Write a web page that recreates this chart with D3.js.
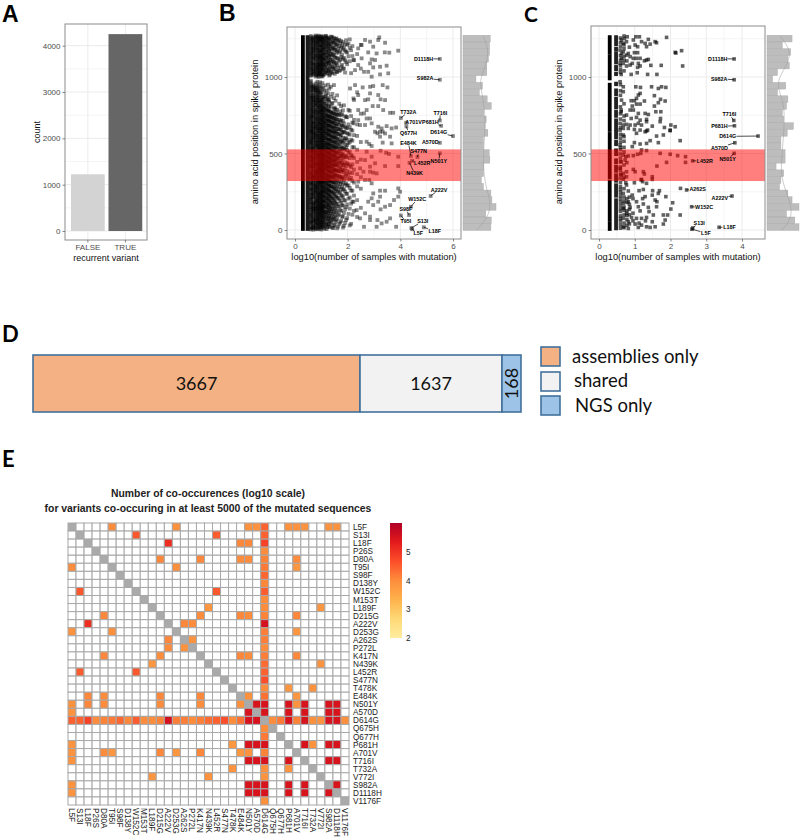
<!DOCTYPE html>
<html><head><meta charset="utf-8">
<script src="https://cdn.jsdelivr.net/npm/d3@7"></script>
<style>
html,body{margin:0;padding:0;background:#fff}
svg{display:block}
text{font-family:"Liberation Sans",Arial,sans-serif}
</style></head><body><div id="chart"></div>
<script>
// ---------- Panel A ----------
const recurrentCats = ["FALSE","TRUE"];
const recurrentCounts = [1225,4250];

// ---------- Panel B ----------
const bLevels = [.6,.7,.78,.85,.9,.95,1,1.04,1.08,1.15,1.2,1.26,1.3,1.36,1.42,1.48,1.54,1.6,1.68,1.75,1.82,1.9,1.98,2.08,2.18];
const bLevelPositions = [
[4,22,37,55,71,83,102,118,131,150,164,183,197,212,231,246,259,274,291,310,334,349,366,381,397,412,428,441,459,473,488,502,519,534,551,566,583,597,612,628,641,659,675,688,704,719,733,751,768,783,797,815,829,846,862,881,903,921,937,955,976,1008,1023,1041,1056,1072,1089,1104,1121,1138,1152,1169,1186,1203,1219,1236,1251,1268],
[12,29,48,63,92,109,125,141,158,176,204,221,239,268,283,301,322,341,358,374,405,421,449,466,481,511,527,543,574,590,605,634,651,668,697,712,741,759,776,806,838,855,873,896,912,930,947,1015,1033,1049,1081,1097,1113,1130,1161,1178,1195,1227,1244,1260],
[7,33,59,77,96,128,146,171,189,226,253,279,298,327,362,388,417,435,462,495,515,556,579,603,622,645,680,706,727,755,790,820,841,868,907,926,958,1003,1028,1061,1077,1108,1143,1174,1210,1231,1256,1271],
[17,44,68,88,112,137,160,193,217,241,264,287,316,345,371,393,424,452,478,507,538,560,591,618,655,684,712,745,772,803,833,858,886,915,942,969,1019,1045,1068,1095,1126,1158,1181,1214,1240,1265],
[26,52,80,105,133,155,180,208,235,272,305,331,356,384,409,437,468,493,524,548,577,609,636,664,695,724,763,794,824,851,877,910,951,1011,1037,1064,1085,1117,1147,1191,1223,1247,1270],
[9,41,74,99,122,148,174,201,228,256,295,319,352,378,402,431,456,483,512,541,569,599,631,661,691,716,748,780,811,843,892,933,965,1026,1052,1079,1110,1135,1165,1199,1233,1258],
[19,50,86,115,143,168,194,223,250,282,313,339,368,395,426,447,476,505,530,562,594,625,657,686,721,758,786,818,849,900,939,1006,1043,1075,1100,1132,1172,1206,1242,1262],
[31,65,94,127,153,186,215,244,276,307,336,364,391,419,444,471,499,532,558,587,616,648,678,708,736,770,801,835,866,919,960,1017,1059,1092,1124,1156,1189,1225,1255],
[14,46,79,110,139,166,199,233,262,294,325,359,386,414,439,464,491,521,553,582,611,643,673,701,729,761,792,826,859,928,1012,1047,1083,1119,1149,1182,1216,1249],
[25,61,98,120,157,191,225,258,288,318,347,376,407,433,458,486,516,546,572,605,638,669,699,731,766,799,840,875,945,1030,1066,1102,1140,1176,1208,1238,1266],
[6,39,84,116,147,178,210,242,270,303,332,361,398,423,451,481,510,540,567,601,633,666,696,725,754,788,822,856,912,1021,1055,1094,1127,1163,1197,1229,1259],
[35,70,108,142,172,205,237,265,299,329,355,389,416,445,474,504,536,563,592,626,652,682,714,743,777,813,852,893,950,1039,1086,1115,1154,1192,1222,1253],
[20,58,91,129,163,198,229,261,289,323,350,379,411,440,469,497,527,557,589,620,649,679,710,739,774,809,847,924,1010,1050,1091,1133,1170,1205,1245],
[43,81,119,152,188,219,251,285,315,344,373,403,434,462,492,523,552,585,613,646,677,707,738,768,804,871,936,1035,1070,1111,1145,1184,1218,1264],
[15,66,103,136,175,207,243,277,311,342,370,400,430,460,489,520,549,580,610,644,672,703,735,765,830,890,1025,1063,1106,1151,1196,1232,1261],
[28,76,114,159,195,234,268,301,338,367,396,427,455,485,515,544,575,607,639,667,700,728,760,793,862,947,1058,1098,1142,1187,1226,1254],
[53,97,144,182,218,255,293,328,363,393,422,450,479,509,539,570,602,635,662,694,726,757,790,845,1048,1088,1129,1178,1213,1248],
[11,73,124,170,211,249,284,324,357,387,418,448,477,506,535,565,596,630,660,690,722,752,785,880,1032,1076,1123,1167,1212,1241],
[40,101,151,200,240,280,321,354,383,410,443,472,501,531,561,593,627,656,689,720,756,825,1040,1101,1159,1201,1243],
[60,126,177,227,271,312,348,380,413,453,484,514,547,578,619,654,683,717,749,810,1069,1131,1193,1235],
[16,90,161,214,263,306,343,392,425,465,498,533,571,604,640,676,713,782,1053,1118,1180,1228],
[47,135,192,252,297,353,401,442,487,525,559,598,637,674,744,1029,1109,1173,1215],
[78,167,238,290,337,385,436,475,522,555,590,632,665,737,1084,1160,1211],
[30,140,213,275,330,377,420,470,513,576,623,671,779,1103,1190,1246],
[100,185,257,320,372,429,482,542,584,650,702,1137,1202]
];
const bLevels2 = [.6,.7,.78,.85,.9,.95,1,1.04,1.08,1.11,1.18,1.23,1.28,1.33,1.39,1.45,1.51,1.57,1.64,1.72,1.79,1.86,1.94,2.03,2.13,2.24,2.36,2.5];
const bLevelPositions2 = [
[9,15,44,49,66,90,97,113,139,145,172,178,201,207,226,238,265,270,296,303,315,328,341,355,372,376,402,418,423,447,454,478,481,507,513,528,541,559,572,576,590,604,620,636,647,652,668,681,696,711,727,739,745,760,775,791,806,822,837,853,868,875,895,911,929,944,966,1012,1030,1048,1063,1080,1095,1112,1129,1146,1161,1178,1194,1211,1228,1244,1259],
[2,18,25,57,73,85,117,136,149,167,182,214,233,247,262,290,312,330,347,352,385,396,414,430,440,458,474,492,503,520,535,550,567,598,615,626,640,660,677,690,705,731,747,769,785,798,816,830,849,864,882,921,938,1021,1038,1057,1071,1088,1122,1139,1155,1170,1187,1204,1218,1235,1252],
[13,39,51,71,103,119,138,155,179,198,212,243,260,272,289,309,336,351,369,380,399,428,444,471,486,506,526,548,569,587,612,631,662,671,693,720,736,766,781,812,829,851,878,899,918,935,1014,1039,1054,1086,1118,1134,1152,1186,1200,1220,1240,1263],
[5,30,58,79,101,124,147,170,186,205,230,254,277,300,322,338,360,383,408,433,463,489,519,545,570,599,628,647,672,698,731,757,785,815,846,871,901,930,1008,1030,1056,1081,1107,1136,1169,1195,1226,1252],
[10,36,64,92,116,142,164,192,220,245,284,312,343,373,396,420,447,480,502,535,563,588,615,650,678,707,739,773,807,838,864,896,923,1000,1022,1047,1073,1098,1129,1155,1178,1208,1236,1261],
[21,47,69,107,131,158,183,211,239,268,302,328,360,390,413,440,467,496,522,551,584,612,644,669,702,732,768,797,831,868,908,1018,1034,1063,1089,1122,1143,1175,1212,1249],
[3,33,60,92,126,149,176,205,232,259,290,322,353,382,408,436,461,491,518,546,576,606,634,665,694,727,752,784,815,842,882,1024,1051,1083,1113,1142,1166,1198,1234,1267],
[24,54,83,112,138,163,189,218,247,279,309,341,373,399,428,456,482,511,541,573,602,630,660,688,719,750,779,808,854,1003,1041,1071,1105,1137,1177,1209,1241],
[37,72,104,134,160,185,222,255,283,316,346,378,406,432,467,493,528,555,586,617,645,675,706,741,772,803,869,1018,1060,1090,1120,1158,1194,1230,1263],
[8,52,88,121,156,190,216,248,274,308,335,365,395,424,452,483,512,538,568,600,629,658,692,718,746,787,828,905,1036,1078,1114,1148,1185,1219,1250],
[33,74,113,149,181,212,246,278,310,340,369,404,435,463,495,526,556,588,618,647,681,711,748,778,812,885,1044,1082,1125,1162,1203,1239,1269],
[18,56,95,132,167,203,235,266,296,326,358,390,421,449,478,508,537,566,595,628,659,688,722,751,789,864,1027,1067,1104,1144,1183,1221,1257],
[42,82,123,158,193,226,259,292,322,352,384,415,444,473,503,533,562,591,622,653,685,716,747,783,838,1042,1093,1136,1175,1214,1247],
[23,67,110,146,184,222,254,286,317,349,381,412,441,468,499,528,560,590,621,651,684,712,742,775,1016,1062,1110,1153,1198,1236],
[50,93,138,176,213,250,287,319,351,388,419,452,484,518,548,579,611,642,674,705,733,761,826,1031,1085,1128,1171,1219,1258],
[13,72,122,165,206,244,280,313,347,382,417,446,476,507,538,569,603,634,665,698,730,770,1052,1099,1147,1191,1237],
[34,88,140,188,232,273,314,356,392,426,458,489,521,551,586,615,645,680,711,746,800,1021,1073,1125,1178,1224],
[62,117,169,221,269,310,352,390,431,466,500,541,574,608,642,681,723,768,1035,1094,1158,1206,1252],
[22,96,155,209,258,304,345,384,428,468,510,549,588,628,663,703,752,1061,1120,1183,1233],
[49,128,190,249,300,346,397,439,483,528,573,616,659,709,775,1044,1112,1168,1221],
[85,160,224,283,335,388,437,491,538,585,636,684,756,1079,1145,1205],
[27,112,195,267,326,378,426,475,532,582,643,697,815,1056,1125,1192],
[66,150,236,305,365,420,480,540,600,668,738,1097,1165,1240],
[105,205,292,360,430,503,568,628,690,785,1135,1218],
[40,172,258,340,410,490,590,655,745,1025,1175],
[125,225,310,395,470,540,620,720,850,1110],
[85,195,285,365,445,525,615,690,900,1150],
[145,270,345,460,575,760,1055,1210]
];
const bSparse = [[3.92,1172],[3.58,1159],[3.41,1161],[3.42,1224],[3.2,1259],[3.16,1242],[2.97,1198],[2.85,1231],[2.66,1242],[2.53,1209],[2.4,1187],[3.1,1154],[2.78,1161],[2.91,1115],[3.04,1111],[2.85,1089],[3.23,1067],[3.48,1074],[2.97,1063],[2.78,1034],[2.62,1034],[3.23,1017],[3.54,1024],[2.28,1045],[2.91,1002],[2.4,1078],[2.53,1122],[2.22,1111],[2.97,941],[3.33,947],[3.51,932],[2.57,932],[2.85,936],[2.28,947],[2.09,925],[2.85,893],[3.16,882],[3.25,854],[3.42,849],[2.78,854],[2.66,849],[2.4,882],[2.22,860],[2.95,810],[3.16,810],[3.35,784],[3.61,766],[3.73,766],[2.72,784],[2.62,762],[2.4,784],[2.72,729],[2.85,729],[3.16,675],[3.29,664],[3.48,679],[3.67,664],[3.84,670],[2.91,697],[2.66,686],[2.47,686],[2.4,718],[2.22,697],[3.04,642],[3.42,631],[3.23,642],[3.92,479],[3.92,418],[3.42,418],[3.57,497],[3.46,505],[3.25,518],[2.82,562],[2.91,549],[2.72,577],[3.23,610],[3.61,610],[3.33,571],[3.67,566],[3.13,632],[3.33,643],[2.72,512],[2.91,479],[3.04,436],[2.66,457],[2.85,414],[3.1,370],[2.85,381],[2.6,381],[2.47,403],[2.97,375],[2.82,327],[2.91,305],[2.4,316],[2.66,327],[3.23,257],[3.42,257],[3.92,272],[3.99,250],[3.92,218],[3.76,196],[3.23,218],[3.16,185],[2.97,239],[2.91,207],[2.78,185],[3.61,163],[3.42,152],[3.25,135],[2.97,163],[2.66,109],[2.85,87],[3.13,65],[3.48,54],[3.61,76],[3.84,21],[3.29,43],[3.1,21],[2.85,65],[2.62,21],[2.47,76],[2.34,130],[2.22,185]];
const bLabels = [["D1118H",5.5,1118],["S982A",5.5,982],["T732A",4.02,732],["T716I",5.5,716],["A701V",4.22,701],["P681H",5.55,681],["Q677H",4.23,677],["D614G",6,614],["A570D",5.5,570],["E484K",4.4,484],["S477N",4.65,477],["L452R",4.45,452],["N501Y",5.5,501],["N439K",4.35,439],["A222V",5.15,222],["W152C",4.4,152],["S98F",4.33,98],["T95I",4.02,95],["S13I",4.42,13],["L5F",4.45,5],["L18F",4.89,18]];
const bLabelPlacement = [[4.88,1120],[4.94,991],[4.3,771],[5.52,766],[4.5,705],[5.14,705],[4.31,635],[5.46,637],[5.14,574],[4.31,570],[4.7,513],[4.83,437],[5.46,450],[4.54,369],[5.47,264],[4.64,201],[4.21,138],[4.21,55],[4.85,57],[4.68,-22],[5.31,-7]];
const bStripes = [[.3,[[1,1273]]],[.477,[[1,1273]]]];
const bHistCounts = [80,78,78,75,70,70,38,57,48,71,83,61,68,65,73,60,60,77,79,61,60,54,60,82,85,97,67,83,82];
const bDensity = [[1266,60],[1179,75],[1092,70],[993,50],[917,53],[786,65],[633,65],[524,60],[371,60],[262,70],[175,82],[87,75],[0,40]];

// ---------- Panel C ----------
const cPoints = [[1.89,1259],[2.13,1161],[2.15,1157],[2.31,1172],[2.34,1072],[1.74,1076],[1.45,1076],[1.62,1017],[1.36,1017],[1.07,1028],[.9,1017],[.62,1017],[1.61,1224],[1.57,1231],[1.38,1246],[1.33,1198],[1.43,1215],[1.29,1220],[1.19,1231],[1.13,1263],[1.03,1263],[.96,1242],[.79,1263],[.71,1252],[.63,1242],[.77,1231],[.68,1220],[1.01,1209],[1.08,1198],[.99,1159],[1.08,1159],[1.15,1122],[1.33,1111],[1.38,1115],[1.27,1106],[1.05,1122],[.96,1122],[.87,1133],[.82,1154],[.77,1143],[.63,1154],[.59,1176],[.68,1165],[.63,1122],[.68,1089],[.77,1072],[.87,1078],[.93,1089],[1.1,1089],[1.15,1072],[1.08,1063],[.59,1089],
[1.03,936],[1.16,932],[1.47,936],[1.66,925],[1.75,936],[1.87,932],[1.15,893],[1.1,882],[1.05,860],[.99,845],[.9,845],[1.55,878],[1.72,854],[1.85,843],[1.66,832],[1.27,843],[1.15,823],[1.05,823],[.93,810],[.87,784],[.96,784],[1.55,810],[1.73,773],[1.59,773],[1.29,762],[1.38,755],[1.1,762],[.77,751],[.9,729],[1.05,736],[1.15,718],[1.33,723],[1.72,729],[1.71,708],[2.01,686],[2.13,675],[1.83,670],[1.99,653],[1.49,679],[1.33,708],[1.1,697],[1.19,686],[1.01,686],[.87,686],[.77,690],[.68,686],[.82,664],[.68,664],[.99,657],[1.15,653],[1.29,642],[1.36,653],[.59,697],[.59,969],[.68,936],[.68,904],[.63,849],[.62,784],[.62,773],[.59,653],
[2.27,584],[1.99,649],[1.8,621],[1.61,614],[1.66,571],[1.43,584],[1.33,566],[1.15,562],[.99,571],[.93,545],[.59,555],[.68,621],[1.05,632],[1.33,647],[1.19,523],[1.33,519],[1.71,501],[1.99,495],[2.2,486],[2.42,479],[2.42,442],[1.89,442],[1.62,418],[1.17,501],[1.08,495],[.96,486],[.82,484],[.75,479],[.68,490],[.59,497],[.73,457],[.62,447],[.59,403],[.96,396],[1.01,381],[1.24,381],[1.27,366],[1.49,348],[1.49,331],[1.19,331],[.77,381],[.68,370],[.62,359],[.77,348],[.68,331],[.59,338],[.77,294],[.99,309],[1.18,327],[1.33,305],[1.22,316],[.75,309],[1.5,257],[1.69,257],[1.66,239],[2.28,272],[1.24,265],[1.12,257],[.82,255],[.68,239],[.93,228],[1.29,218],[1.87,218],[1.49,228],[1.57,196],[2.06,178],[2.01,137],[1.62,185],[1.61,152],[1.38,148],[1.24,170],[1.05,185],[1.1,152],[.82,185],[.68,174],[.87,148],[.68,141],[.77,109],[.91,82],[1.05,76],[1.19,76],[1.33,82],[1.52,98],[1.49,54],[1.8,98],[1.92,98],[1.85,65],[2.27,98],[1.8,39],[1.57,21],[1.33,21],[1.19,32],[1.01,39],[.82,54],[.68,76],[.68,21],[.82,10],[1.1,17],[1.43,17],
[.6,12],[.6,34],[.6,58],[.6,92],[.6,121],[.6,163],[.6,205],[.6,247],[.6,283],[.6,412],[.6,470],[.6,525],[.6,600],[.6,725],[.6,805],[.6,880],[.6,950],[.6,1050],[.6,1110],[.6,1200],[.6,1255],
[.7,45],[.7,98],[.7,128],[.7,190],[.7,270],[.7,425],[.7,510],[.7,580],[.7,745],[.7,825],[.7,1040],[.7,1135],[.7,1185],[.7,1268],[.78,30],[.78,68],[.78,125],[.78,205],[.85,100],[.85,168],[.85,215],[.95,60],[.95,110],[.95,205],[1.12,45],[1.15,125],[1.22,205],[1.3,60],[1.4,120],
[.6,75],[.6,140],[.6,185],[.6,225],[.6,265],[.6,310],[.6,365],[.6,390],[.6,445],[.6,540],[.6,575],[.6,625],[.6,670],[.6,760],[.6,910],[.6,1030],[.6,1075],[.6,1140],[.6,1225],[.7,15],[.7,150],[.7,215],[.7,345],[.7,540],[.7,610],[.7,715],[.7,1110],[.7,1210],[.78,95],[.78,180],[.78,440],[.78,1105],[.85,40],[.85,135],[.85,1195]];
const cLabels = [["D1118H",3.78,1118],["S982A",3.78,982],["T716I",3.77,716],["P681H",3.79,681],["D614G",4.45,614],["A570D",3.8,570],["N501Y",3.78,501],["L452R",2.62,452],["A262S",2.45,262],["A222V",3.72,222],["W152C",2.59,152],["S13I",2.62,13],["L5F",2.6,5],["L18F",3.36,18]];
const cLabelPlacement = [[3.32,1120],[3.36,989],[3.65,755],[3.37,678],[3.6,612],[3.37,538],[3.6,462],[2.96,450],[2.76,267],[3.38,210],[2.94,147],[2.8,46],[2.99,-20],[3.65,17]];
const cStripes = [[.3,[[1,55],[60,330],[340,640],[648,830],[836,962],[985,1148],[1153,1273]]],
 [.477,[[1273,1209],[1198,1172],[1165,1089],[1078,1045],[1034,1013],[969,947],[925,882],[871,795],[784,740],[729,653],[653,599],[588,555],[533,490],[468,436],[425,381],[370,316],[305,218],[207,5]]]];
const cHistCounts = [36,22,34,30,32,15,8,27,15,30,28,22,24,38,29,20,20,26,26,13,24,20,18,30,36,46,28,40,46];
const cDensity = [[1266,19],[1179,34],[1092,31],[993,16],[917,16],[807,26],[632,24],[457,21],[370,20],[260,26],[151,36],[63,34],[0,21]];

// ---------- Panel D ----------
const overlapCats = ["assemblies only","shared","NGS only"];
const overlapCounts = [3667,1637,168];

// ---------- Panel E ----------
const variants = ["L5F","S13I","L18F","P26S","D80A","T95I","S98F","D138Y","W152C","M153T","L189F","D215G","A222V","D253G","A262S","P272L","K417N","N439K","L452R","S477N","T478K","E484K","N501Y","A570D","D614G","Q675H","Q677H","P681H","A701V","T716I","T732A","V772I","S982A","D1118H","V1176F"];
const d614gCooccur = [4.4,4.4,4.75,3.95,4.05,4.15,4.35,4,4.45,3.95,3.95,4.05,5.45,4.1,4.1,3.95,4.1,4.3,4.4,4.6,3.95,4.25,5.4,5.4,null,3.95,4.15,5.4,4.05,5.4,3.9,3.85,5.4,5.4,3.9];
const pairCooccur = [[0,5,3.95],[0,13,3.85],[0,22,3.85],[0,23,3.85],[0,27,3.85],[0,28,3.85],[0,29,3.85],[0,32,3.85],[0,33,3.85],
[1,8,4.5],[1,18,4.45],[2,12,5],[2,21,4],[2,22,4],
[4,11,4],[4,16,4],[4,21,3.95],[4,22,3.95],[4,28,3.95],[5,13,3.9],[5,28,3.8],[8,18,4.5],[10,17,3.8],[10,31,3.8],
[11,16,3.95],[11,21,4],[11,22,3.95],[11,28,4],[12,14,4],[12,15,3.95],[13,28,3.8],[14,15,3.85],[16,21,4],[16,22,3.95],[16,28,4],[17,31,3.85],
[20,27,3.8],[20,30,3.85],[21,22,3.9],[21,28,3.8],[22,23,5.4],[22,27,5.4],[22,28,3.85],[22,29,5.4],[22,32,5.4],[22,33,5.4],
[23,27,5.4],[23,29,5.4],[23,32,5.4],[23,33,5.4],[27,29,5.4],[27,30,3.85],[27,32,5.4],[27,33,5.4],[29,32,5.4],[29,33,5.4],[32,33,5.4]];
const colorStops = ["#FFEDA0","#FED976","#FEB24C","#FD8D3C","#FC4E2A","#E31A1C","#B10026"];
const colorTicks = [2,3,4,5];

// ============ drawing ============
const svg = d3.select("#chart").append("svg").attr("width",800).attr("height",838).attr("viewBox","0 0 800 838");
const AX="#4d4d4d", GRID="#ebebeb", BORDER="#8c8c8c";
function letter(t,x,y,size,fam){svg.append("text").attr("x",x).attr("y",y).attr("font-size",size).attr("font-weight",700).attr("fill","#000").style("font-family",fam||null).text(t);}
letter("A",2,22,23);letter("B",219,21,23);letter("C",524,22,21,"Lato");letter("D",2,342,22,"Lato");letter("E",2,467,22,"Lato");

function styleAxis(g){
  g.select(".domain").remove();
  g.selectAll(".tick line").attr("stroke","#555").attr("stroke-width",.7);
  g.selectAll(".tick text").attr("fill",AX).attr("font-size",8).style("font-family","'Liberation Sans'");
}
function frame(x0,x1,y0,y1,xs,ys,xMajor,xMinor,yMajor,yMinor){
  const g=svg.append("g");
  xMinor.forEach(v=>g.append("line").attr("x1",xs(v)).attr("x2",xs(v)).attr("y1",y0).attr("y2",y1).attr("stroke",GRID).attr("stroke-width",.5));
  yMinor.forEach(v=>g.append("line").attr("y1",ys(v)).attr("y2",ys(v)).attr("x1",x0).attr("x2",x1).attr("stroke",GRID).attr("stroke-width",.5));
  xMajor.forEach(v=>g.append("line").attr("x1",xs(v)).attr("x2",xs(v)).attr("y1",y0).attr("y2",y1).attr("stroke",GRID).attr("stroke-width",1));
  yMajor.forEach(v=>g.append("line").attr("y1",ys(v)).attr("y2",ys(v)).attr("x1",x0).attr("x2",x1).attr("stroke",GRID).attr("stroke-width",1));
}
function border(x0,x1,y0,y1){svg.append("rect").attr("x",x0).attr("y",y0).attr("width",x1-x0).attr("height",y1-y0).attr("fill","none").attr("stroke",BORDER).attr("stroke-width",1);}
function titles(xt,cx,cy,yt,lx,ly,size){
  svg.append("text").attr("x",cx).attr("y",cy).attr("text-anchor","middle").attr("font-size",size).attr("fill","#111").text(xt);
  svg.append("text").attr("transform",`translate(${lx},${ly}) rotate(-90)`).attr("text-anchor","middle").attr("font-size",size).attr("fill","#111").text(yt);
}

// Panel A
(function(){
  const x0=65,x1=147,y0=24,y1=240;
  const xs=d3.scaleBand().domain(recurrentCats).range([71,142.25]).paddingInner(.1);
  const ys=d3.scaleLinear().domain([0,4000]).range([231,45.7]);
  frame(x0,x1,y0,y1,c=>xs(c)+xs.bandwidth()/2,ys,recurrentCats,[],[0,1000,2000,3000,4000],[500,1500,2500,3500]);
  const fills=["#d3d3d3","#666666"];
  svg.selectAll(".barA").data(recurrentCats).join("rect").attr("x",d=>xs(d)).attr("width",xs.bandwidth())
    .attr("y",(d,i)=>ys(recurrentCounts[i])).attr("height",(d,i)=>ys(0)-ys(recurrentCounts[i])).attr("fill",(d,i)=>fills[i]);
  border(x0,x1,y0,y1);
  svg.append("g").attr("transform",`translate(${x0},0)`).call(d3.axisLeft(ys).tickValues([0,1000,2000,3000,4000]).tickFormat(d3.format("d")).tickSize(2.5).tickPadding(2)).call(styleAxis);
  svg.append("g").attr("transform",`translate(0,${y1})`).call(d3.axisBottom(xs).tickSize(2.5).tickPadding(1.5)).call(styleAxis);
  titles("recurrent variant",106,261,"count",40,132,9);
})();

function scatter(o){
  const xs=d3.scaleLinear().domain(o.xDom).range(o.xRange);
  const ys=d3.scaleLinear().domain([0,1000]).range([o.y0,o.y1000]);
  frame(o.x0,o.x1,o.top,o.bottom,xs,ys,o.xMajor,o.xMinor,[0,500,1000],[250,750,1250]);
  const sq=o.sq;
  const g=svg.append("g");
  g.selectAll("rect.p").data(o.points).join("rect").attr("x",d=>xs(d[0])-sq/2).attr("y",d=>ys(d[1])-sq/2)
    .attr("width",sq).attr("height",sq).attr("fill","#000").attr("fill-opacity",o.alpha);
  o.stripes.forEach(([xv,segs],si)=>{
    g.selectAll(null).data(segs).join("rect").attr("x",xs(xv)-o.stripeW/2).attr("width",o.stripeW)
      .attr("y",d=>ys(Math.max(d[0],d[1]))).attr("height",d=>Math.abs(ys(d[0])-ys(d[1]))+1)
      .attr("fill",si?o.stripe2:"#000");
  });
  // highlighted receptor-binding region
  svg.append("rect").attr("x",o.x0).attr("width",o.x1-o.x0).attr("y",ys(527)).attr("height",ys(320)-ys(527)).attr("fill","#ff0000").attr("fill-opacity",.5);
  // labels
  o.labels.forEach(([name,vx,vp],i)=>{
    const [lx,lp]=o.place[i];
    const cx=xs(lx),cy=ys(lp),px=xs(vx),py=ys(vp);
    const t=svg.append("text").attr("x",cx).attr("y",cy+1.9).attr("text-anchor","middle").attr("font-size",5.4).attr("font-weight",700).attr("fill","#000").text(name);
    const b=t.node().getBBox();
    const hw=b.width/2+.3,hh=2.7;
    const dx=px-cx,dy=py-cy;
    const k=Math.min(hw/Math.max(Math.abs(dx),1e-6),hh/Math.max(Math.abs(dy),1e-6));
    if(k<1) svg.append("line").attr("x1",cx+dx*k).attr("y1",cy+dy*k).attr("x2",px).attr("y2",py).attr("stroke","#000").attr("stroke-width",.7);
  });
  border(o.x0,o.x1,o.top,o.bottom);
  svg.append("g").attr("transform",`translate(${o.x0},0)`).call(d3.axisLeft(ys).tickValues([0,500,1000]).tickFormat(d3.format("d")).tickSize(2.5).tickPadding(2)).call(styleAxis);
  svg.append("g").attr("transform",`translate(0,${o.bottom})`).call(d3.axisBottom(xs).tickValues(o.xMajor).tickFormat(d3.format("d")).tickSize(2.5).tickPadding(1.5)).call(styleAxis);
  titles("log10(number of samples with mutation)",(o.x0+o.x1)/2,260,"amino acid position in spike protein",o.x0-29,132,9.3);
  // marginal histogram
  const hs=d3.scaleLinear().domain([0,d3.max(o.hist)]).range(o.histRange);
  const bw=44;
  svg.append("g").selectAll("rect").data(o.hist).join("rect")
    .attr("x",hs(0)).attr("width",d=>hs(d)-hs(0)).attr("y",(d,i)=>ys(1273-i*bw)).attr("height",ys(0)-ys(bw))
    .attr("fill","#bdbdbd").attr("stroke","#a8a8a8").attr("stroke-width",.4);
  svg.append("path").attr("d",d3.line().x(d=>hs(d[1])).y(d=>ys(d[0])).curve(d3.curveBasis)(o.density)).attr("fill","none").attr("stroke","#9a9a9a").attr("stroke-width",.5);
}
const bPoints = [...bSparse, ...bLabels.map(d=>[d[1],d[2]])];
bLevels.forEach((lv,i)=>bLevelPositions[i].forEach(p=>bPoints.push([lv,p])));
bLevels2.forEach((lv,i)=>bLevelPositions2[i].forEach(p=>bPoints.push([lv,p])));
scatter({x0:287,x1:461,top:27,bottom:239,xDom:[0,6],xRange:[295,453],y0:230,y1000:77,xMajor:[0,2,4,6],xMinor:[1,3,5],
  points:bPoints,labels:bLabels,place:bLabelPlacement,stripes:bStripes,hist:bHistCounts,density:bDensity,histRange:[463,496],
  sq:3.8,alpha:.46,stripeW:3.8,stripe2:"#1a1a1a"});
scatter({x0:591,x1:765,top:26,bottom:239,xDom:[0,4],xRange:[599,742],y0:230,y1000:77,xMajor:[0,1,2,3,4],xMinor:[.5,1.5,2.5,3.5],
  points:[...cPoints,...cLabels.map(d=>[d[1],d[2]])],labels:cLabels,place:cLabelPlacement,stripes:cStripes,hist:cHistCounts,density:cDensity,histRange:[767,799],
  sq:3.6,alpha:.62,stripeW:3.8,stripe2:"#222"});

// Panel D
(function(){
  const cum=d3.cumsum(overlapCounts);
  const xs=d3.scaleLinear().domain([0,...cum]).range([33,360,502,521]);
  const y0=355,h=57;
  const fills=["#F4B183","#F2F2F2","#9DC3E6"],stroke="#41719C";
  const starts=[0,...cum];
  const g=svg.append("g");
  overlapCounts.forEach((v,i)=>{
    g.append("rect").attr("x",xs(starts[i])).attr("y",y0).attr("width",xs(starts[i+1])-xs(starts[i])).attr("height",h).attr("fill",fills[i]).attr("stroke",stroke).attr("stroke-width",1.6);
    const cx=(xs(starts[i])+xs(starts[i+1]))/2,cy=y0+h/2;
    g.append("text").attr("transform",i==2?`translate(${cx+6},${cy}) rotate(-90)`:`translate(${cx},${cy+6})`).attr("text-anchor","middle").attr("font-size",18).attr("fill","#111").style("font-family","Lato").text(v);
  });
  const ly=[347,372,396];
  const tx=[572,574,575];
  const ty=[363,387,412];
  overlapCats.forEach((c,i)=>{
    g.append("rect").attr("x",541).attr("y",ly[i]).attr("width",19).attr("height",19).attr("fill",fills[i]).attr("stroke",stroke).attr("stroke-width",1.6);
    g.append("text").attr("x",tx[i]).attr("y",ty[i]).attr("font-size",18.5).attr("fill","#111").style("font-family","Lato").text(c);
  });
})();

// Panel E
(function(){
  const xs=d3.scaleBand().domain(variants).range([68,349]);
  const ys=d3.scaleBand().domain(variants).range([523,805]);
  const col=d3.scaleLinear().domain(d3.range(7).map(i=>2+i*3.9/6)).range(colorStops);
  svg.append("text").attr("x",208).attr("y",497).attr("text-anchor","middle").attr("font-size",10.4).attr("font-weight",700).attr("fill","#222").text("Number of co-occurences (log10 scale)");
  svg.append("text").attr("x",208).attr("y",512).attr("text-anchor","middle").attr("font-size",10.4).attr("font-weight",700).attr("fill","#222").text("for variants co-occuring in at least 5000 of the mutated sequences");
  const cells=[];
  variants.forEach((a,i)=>variants.forEach((b,j)=>cells.push({a,b,v:null,diag:i===j})));
  const idx=(i,j)=>i*variants.length+j;
  pairCooccur.forEach(([i,j,v])=>{cells[idx(i,j)].v=v;cells[idx(j,i)].v=v;});
  d614gCooccur.forEach((v,i)=>{if(v!=null){cells[idx(24,i)].v=v;cells[idx(i,24)].v=v;}});
  const g=svg.append("g");
  g.selectAll("rect").data(cells).join("rect").attr("x",d=>xs(d.b)).attr("y",d=>ys(d.a)).attr("width",xs.bandwidth()).attr("height",ys.bandwidth())
    .attr("fill",d=>d.diag?"#aaaaaa":d.v==null?"#fff":col(d.v)).attr("stroke","#a8a8a8").attr("stroke-width",1);
  svg.selectAll(".rl").data(variants).join("text").attr("x",353).attr("y",d=>ys(d)+ys.bandwidth()/2+3).attr("font-size",8.2).attr("fill","#222").text(d=>d);
  svg.selectAll(".cl").data(variants).join("text").attr("transform",d=>`translate(${xs(d)+xs.bandwidth()/2-3},808) rotate(90)`).attr("font-size",8.2).attr("fill","#222").text(d=>d);
  // colour bar
  const cy=d3.scaleLinear().domain([2,6]).range([638,523]);
  const defs=svg.append("defs");
  const lg=defs.append("linearGradient").attr("id","cbar").attr("x1",0).attr("x2",0).attr("y1",1).attr("y2",0);
  colorStops.forEach((c,i)=>lg.append("stop").attr("offset",i/6).attr("stop-color",c));
  svg.append("rect").attr("x",390).attr("y",cy(6)).attr("width",12).attr("height",cy(2)-cy(6)).attr("fill","url(#cbar)");
  svg.selectAll(".ct").data(colorTicks).join("text").attr("x",406).attr("y",d=>cy(d)+3).attr("font-size",8.2).attr("fill","#222").text(d=>d);
})();
</script></body></html>
